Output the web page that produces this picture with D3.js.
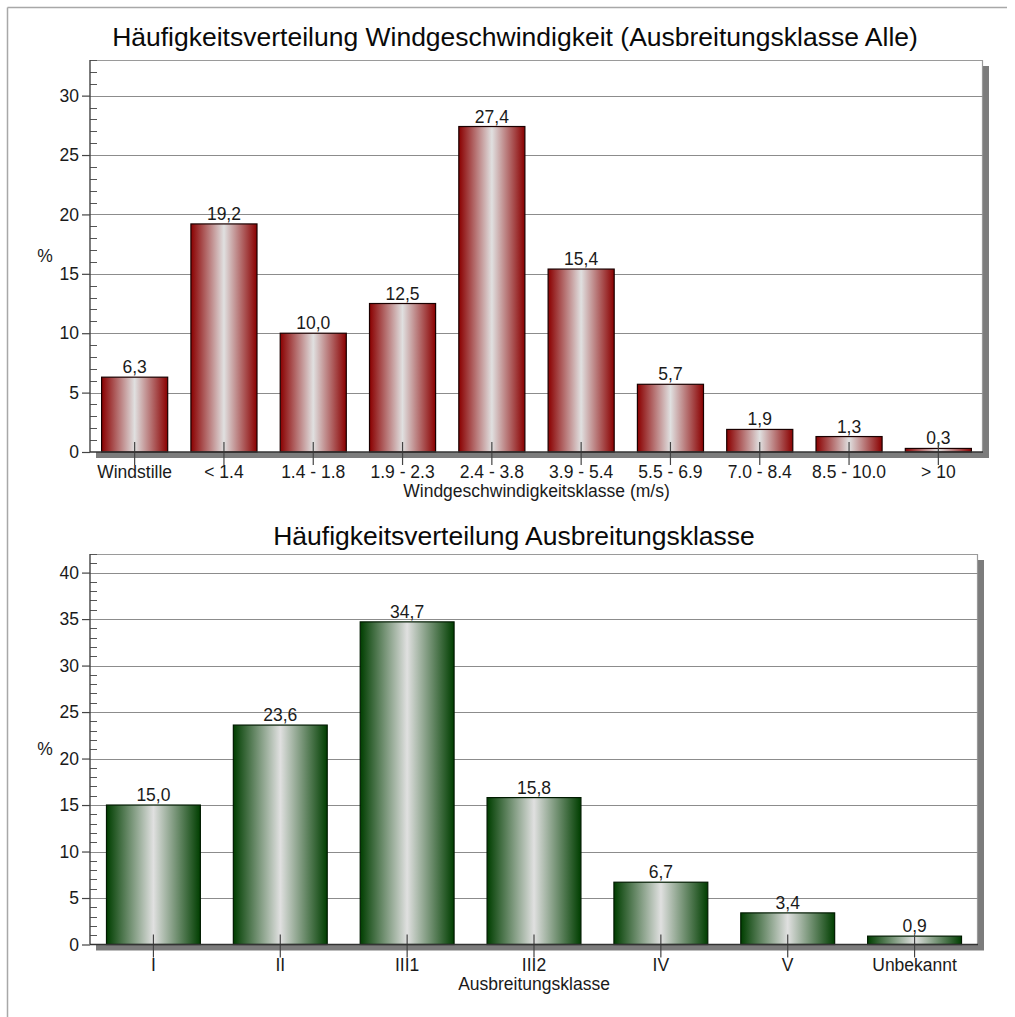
<!DOCTYPE html>
<html>
<head>
<meta charset="utf-8">
<script src="https://cdn.jsdelivr.net/npm/d3@7"></script>
<style>
  html, body { margin: 0; padding: 0; background: #ffffff; }
  svg { display: block; font-family: "Liberation Sans", Arial, sans-serif; }
</style>
</head>
<body>
<svg id="chart" width="1015" height="1017"></svg>
<script>
// ---------- data ----------
const windTitle = "Häufigkeitsverteilung Windgeschwindigkeit (Ausbreitungsklasse Alle)";
const windAxisTitle = "Windgeschwindigkeitsklasse (m/s)";
const windCategories = ["Windstille", "< 1.4", "1.4 - 1.8", "1.9 - 2.3", "2.4 - 3.8", "3.9 - 5.4", "5.5 - 6.9", "7.0 - 8.4", "8.5 - 10.0", "> 10"];
const windValues = [6.3, 19.2, 10.0, 12.5, 27.4, 15.4, 5.7, 1.9, 1.3, 0.3];
const windTicks = [0, 5, 10, 15, 20, 25, 30];

const classTitle = "Häufigkeitsverteilung Ausbreitungsklasse";
const classAxisTitle = "Ausbreitungsklasse";
const classCategories = ["I", "II", "III1", "III2", "IV", "V", "Unbekannt"];
const classValues = [15.0, 23.6, 34.7, 15.8, 6.7, 3.4, 0.9];
const classTicks = [0, 5, 10, 15, 20, 25, 30, 35, 40];

const yLabel = "%";

// ---------- drawing ----------
const svg = d3.select("#chart");
const defs = svg.append("defs");

function gradient(id, edge, mid) {
  const g = defs.append("linearGradient").attr("id", id)
    .attr("x1", "0%").attr("x2", "100%").attr("y1", "0%").attr("y2", "0%");
  g.append("stop").attr("offset", "0%").attr("stop-color", edge);
  g.append("stop").attr("offset", "50%").attr("stop-color", mid);
  g.append("stop").attr("offset", "100%").attr("stop-color", edge);
}
gradient("gradRed", "#8a0000", "#e0e0e0");
gradient("gradGreen", "#003e00", "#e0e0e0");

// outer frame (top + left)
svg.append("line").attr("x1", 7.5).attr("x2", 1007).attr("y1", 7.5).attr("y2", 7.5)
  .attr("stroke", "#a8a8a8").attr("stroke-width", 1.5);
svg.append("line").attr("x1", 7.5).attr("x2", 7.5).attr("y1", 7.5).attr("y2", 1017)
  .attr("stroke", "#a8a8a8").attr("stroke-width", 1.5);

const fmt = v => d3.format(".1f")(v).replace(".", ",");
const FS = 17.5;

function drawChart(cfg) {
  const { left, right, top, bottom, yMax, cats, vals, ticks, grad, barStroke,
          title, titleX, titleY, axisTitle, axisTitleY } = cfg;

  const x = d3.scaleBand().domain(cats).range([left, right])
    .paddingInner(0.26).paddingOuter(0.13);
  const y = d3.scaleLinear().domain([0, yMax]).range([bottom, top]);

  const g = svg.append("g");

  // title
  g.append("text").attr("x", titleX).attr("y", titleY)
    .attr("text-anchor", "middle").attr("font-size", 26.5).attr("fill", "#0a0a0a")
    .text(title);

  // shadow
  g.append("rect").attr("x", left + 6).attr("y", top + 6)
    .attr("width", right - left).attr("height", bottom - top)
    .attr("fill", "#7c7c7c");
  // plot area
  g.append("rect").attr("x", left).attr("y", top)
    .attr("width", right - left).attr("height", bottom - top)
    .attr("fill", "#ffffff");
  // top/right border
  g.append("path")
    .attr("d", `M${left},${top + 0.5}H${right - 0.5}V${bottom}`)
    .attr("fill", "none").attr("stroke", "#9a9a9a").attr("stroke-width", 1.2);

  // grid lines
  g.append("g").selectAll("line").data(ticks.filter(t => t > 0)).join("line")
    .attr("x1", left).attr("x2", right)
    .attr("y1", d => Math.round(y(d)) + 0.5).attr("y2", d => Math.round(y(d)) + 0.5)
    .attr("stroke", "#8c8c8c").attr("stroke-width", 1.2);

  // bars
  g.append("g").selectAll("rect").data(vals).join("rect")
    .attr("x", (d, i) => x(cats[i]))
    .attr("width", x.bandwidth())
    .attr("y", d => y(d))
    .attr("height", d => y(0) - y(d))
    .attr("fill", `url(#${grad})`)
    .attr("stroke", barStroke).attr("stroke-width", 1.2);

  // value labels
  g.append("g").selectAll("text").data(vals).join("text")
    .attr("x", (d, i) => x(cats[i]) + x.bandwidth() / 2)
    .attr("y", d => y(d) - 4)
    .attr("text-anchor", "middle").attr("font-size", FS).attr("fill", "#1a1a1a")
    .text(d => fmt(d));

  // x axis (ticks cross the axis)
  const xAxis = d3.axisBottom(x).tickSizeInner(13).tickSizeOuter(0).tickPadding(1);
  const xg = g.append("g").attr("transform", `translate(0,${bottom})`).call(xAxis);
  xg.select(".domain").remove();
  xg.selectAll(".tick line").attr("y1", -10).attr("stroke", "#444").attr("stroke-width", 1.2);
  xg.selectAll(".tick text").attr("font-size", FS).attr("fill", "#1a1a1a")
    .attr("font-family", "Liberation Sans, Arial, sans-serif");

  // y axis major ticks (left) with labels
  const yAxis = d3.axisLeft(y).tickValues(ticks).tickSizeInner(8).tickSizeOuter(0)
    .tickPadding(3).tickFormat(d3.format("d"));
  const yg = g.append("g").attr("transform", `translate(${left},0)`).call(yAxis);
  yg.select(".domain").remove();
  yg.selectAll(".tick line").attr("stroke", "#444").attr("stroke-width", 1.2);
  yg.selectAll(".tick text").attr("font-size", FS).attr("fill", "#1a1a1a")
    .attr("font-family", "Liberation Sans, Arial, sans-serif");

  // y minor ticks (right of axis)
  const minors = d3.range(1, Math.floor(yMax) + 1).filter(v => v % 5 !== 0);
  g.append("g").selectAll("line").data(minors).join("line")
    .attr("x1", left).attr("x2", left + 7)
    .attr("y1", d => Math.round(y(d)) + 0.5).attr("y2", d => Math.round(y(d)) + 0.5)
    .attr("stroke", "#555").attr("stroke-width", 1);

  // axis lines
  g.append("line").attr("x1", left).attr("x2", left).attr("y1", top).attr("y2", bottom)
    .attr("stroke", "#444").attr("stroke-width", 1.4);
  g.append("line").attr("x1", left).attr("x2", right).attr("y1", bottom).attr("y2", bottom)
    .attr("stroke", "#333").attr("stroke-width", 1.6);

  // y label
  g.append("text").attr("x", 45).attr("y", (top + bottom) / 2 + 6)
    .attr("text-anchor", "middle").attr("font-size", FS).attr("fill", "#1a1a1a")
    .text(yLabel);

  // x axis title
  g.append("text").attr("x", (left + right) / 2).attr("y", axisTitleY)
    .attr("text-anchor", "middle").attr("font-size", FS).attr("fill", "#1a1a1a")
    .text(axisTitle);
}

drawChart({
  left: 90, right: 983, top: 60, bottom: 452, yMax: 33,
  cats: windCategories, vals: windValues, ticks: windTicks,
  grad: "gradRed", barStroke: "#1a0000",
  title: windTitle, titleX: 515, titleY: 46,
  axisTitle: windAxisTitle, axisTitleY: 497
});

drawChart({
  left: 90, right: 978, top: 554, bottom: 944.5, yMax: 42,
  cats: classCategories, vals: classValues, ticks: classTicks,
  grad: "gradGreen", barStroke: "#001a00",
  title: classTitle, titleX: 514, titleY: 545,
  axisTitle: classAxisTitle, axisTitleY: 990
});
</script>
</body>
</html>
